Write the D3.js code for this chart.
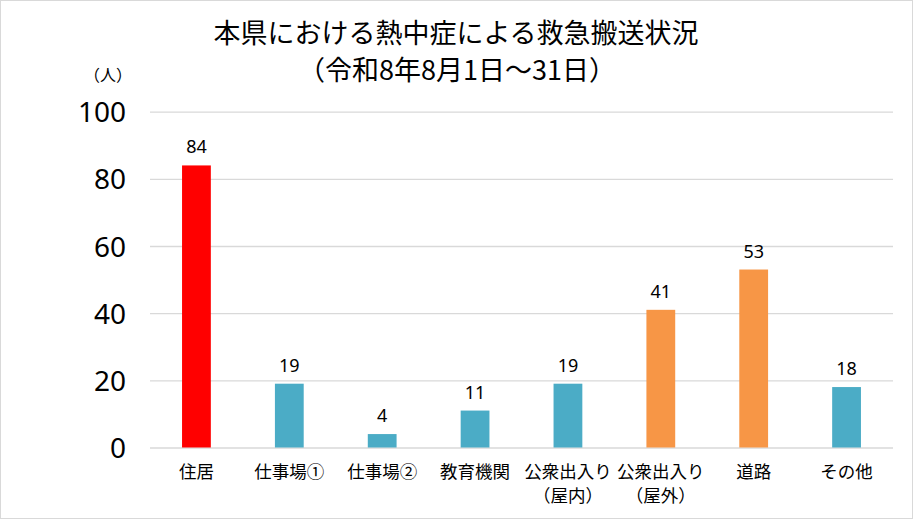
<!DOCTYPE html>
<html>
<head>
<meta charset="utf-8">
<script src="https://cdn.jsdelivr.net/npm/d3@7"></script>
<style>
  html, body { margin: 0; padding: 0; background: #fff; }
  svg { display: block; font-family: "Noto Sans CJK JP", "Noto Sans", sans-serif; }
</style>
</head>
<body>
<svg id="chart" width="913" height="519"></svg>
<script>
// categories (two lines where the label wraps)
const categories = ["住居", "仕事場①", "仕事場②", "教育機関", "公衆出入り（屋内）", "公衆出入り（屋外）", "道路", "その他"];
const labelLines = [["住居"], ["仕事場①"], ["仕事場②"], ["教育機関"], ["公衆出入り", "（屋内）"], ["公衆出入り", "（屋外）"], ["道路"], ["その他"]];
const counts = [84, 19, 4, 11, 19, 41, 53, 18];
const groups = ["home", "other", "other", "other", "other", "outdoor", "outdoor", "other"];
const yTicks = [0, 20, 40, 60, 80, 100];

const colors = { home: "#FF0000", other: "#4BACC6", outdoor: "#F79646" };

const W = 913, H = 519;
const plot = { left: 150, right: 893, top: 111.7, bottom: 447.5 };

const svg = d3.select("#chart");

// outer border
svg.append("rect")
    .attr("x", 0.5).attr("y", 0.5)
    .attr("width", W - 1).attr("height", H - 1)
    .attr("fill", "#fff").attr("stroke", "#d9d9d9");

// title
svg.append("text")
    .attr("x", 456).attr("y", 43)
    .attr("text-anchor", "middle")
    .attr("font-size", 27).attr("fill", "#000")
    .text("本県における熱中症による救急搬送状況");
svg.append("text")
    .attr("x", 457).attr("y", 80)
    .attr("text-anchor", "middle")
    .attr("font-size", 27).attr("fill", "#000")
    .text("（令和8年8月1日～31日）");

// unit
svg.append("text")
    .attr("x", 108).attr("y", 81)
    .attr("text-anchor", "middle")
    .attr("font-size", 16).attr("fill", "#000")
    .text("（人）");

const x = d3.scaleBand()
    .domain(categories)
    .range([plot.left, plot.right])
    .paddingInner(0.69)
    .paddingOuter(0.345);

const y = d3.scaleLinear()
    .domain([0, 100])
    .range([plot.bottom, plot.top]);

// grid + y labels
const yAxis = svg.append("g")
    .attr("transform", `translate(${plot.left},0)`)
    .call(d3.axisLeft(y).tickValues(yTicks).tickSize(-(plot.right - plot.left)).tickPadding(24));
yAxis.select(".domain").remove();
yAxis.selectAll(".tick line").attr("stroke", "#d9d9d9").attr("stroke-width", 1.3);
yAxis.selectAll(".tick text")
    .attr("font-size", 28).attr("fill", "#000")
    .attr("font-family", "\"Noto Sans\", sans-serif")
    .attr("dy", "0.36em");

// bars
svg.append("g").selectAll("rect")
    .data(categories)
    .join("rect")
    .attr("x", d => x(d))
    .attr("y", (d, i) => y(counts[i]))
    .attr("width", x.bandwidth())
    .attr("height", (d, i) => y(0) - y(counts[i]))
    .attr("fill", (d, i) => colors[groups[i]]);

// value labels
svg.append("g").selectAll("text")
    .data(categories)
    .join("text")
    .attr("x", d => x(d) + x.bandwidth() / 2)
    .attr("y", (d, i) => y(counts[i]) - 12)
    .attr("text-anchor", "middle")
    .attr("font-size", 18).attr("fill", "#000")
    .attr("font-family", "\"Noto Sans\", sans-serif")
    .text((d, i) => counts[i]);

// category labels
const cat = svg.append("g").selectAll("text")
    .data(categories)
    .join("text")
    .attr("text-anchor", "middle")
    .attr("font-size", 17.5).attr("fill", "#000");
cat.selectAll("tspan")
    .data((d, i) => labelLines[i].map(t => ({ t, c: d })))
    .join("tspan")
    .attr("x", o => x(o.c) + x.bandwidth() / 2)
    .attr("y", (o, j) => 478 + j * 24)
    .text(o => o.t);
</script>
</body>
</html>
